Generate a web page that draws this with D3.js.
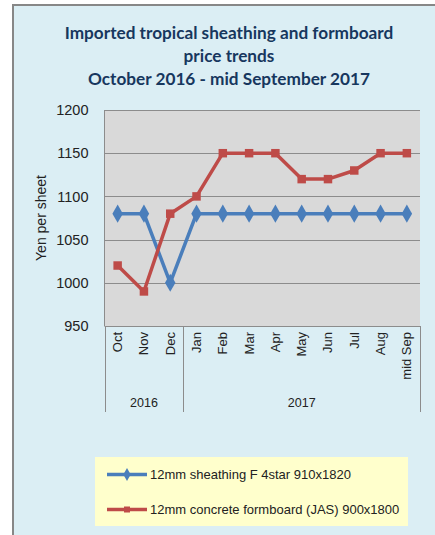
<!DOCTYPE html>
<html>
<head>
<meta charset="utf-8">
<script src="https://cdn.jsdelivr.net/npm/d3@7"></script>
<style>
  body { margin: 0; background: #fff; }
</style>
</head>
<body>
<div id="chart"></div>
<script>
var months = ["Oct", "Nov", "Dec", "Jan", "Feb", "Mar", "Apr", "May", "Jun", "Jul", "Aug", "mid Sep"];
var years = [{ label: "2016", from: 0, to: 3 }, { label: "2017", from: 3, to: 12 }];
var sheathing = [1080, 1080, 1000, 1080, 1080, 1080, 1080, 1080, 1080, 1080, 1080, 1080];
var formboard = [1020, 990, 1080, 1100, 1150, 1150, 1150, 1120, 1120, 1130, 1150, 1150];
var yTicks = [950, 1000, 1050, 1100, 1150, 1200];
var titleLines = ["Imported tropical sheathing and formboard", "price trends", "October 2016 - mid September 2017"];
var seriesNames = ["12mm sheathing F 4star 910x1820", "12mm concrete formboard (JAS) 900x1800"];

drawChart();

function drawChart() {
  var width = 435;
  var height = 535;
  var pLeft = 104.5, pRight = 420, pTop = 110, pBottom = 326;
  var font = "'Liberation Sans', Arial, sans-serif";

  var svg = d3.select("#chart").append("svg")
    .attr("width", width)
    .attr("height", height);

  // panel background + frame
  svg.append("rect")
    .attr("x", 12).attr("y", 4)
    .attr("width", width - 12).attr("height", height - 4)
    .attr("fill", "#DBEEF4");
  svg.append("path")
    .attr("d", "M13," + height + " V5 H" + width)
    .attr("fill", "none")
    .attr("stroke", "#878787")
    .attr("stroke-width", 2);

  // title
  svg.append("text")
    .attr("text-anchor", "middle")
    .attr("font-family", "Lato, 'Open Sans', sans-serif")
    .attr("font-weight", "bold")
    .attr("font-size", 17.2)
    .attr("fill", "#17375E")
    .selectAll("tspan")
    .data(titleLines)
    .enter().append("tspan")
    .attr("x", 229)
    .attr("y", function (d, i) { return 39 + i * 23; })
    .text(function (d) { return d; });

  var x = d3.scaleBand().domain(months).range([pLeft, pRight]);
  var y = d3.scaleLinear().domain([950, 1200]).range([pBottom, pTop]);

  svg.append("rect")
    .attr("x", pLeft).attr("y", pTop)
    .attr("width", pRight - pLeft).attr("height", pBottom - pTop)
    .attr("fill", "#D9D9D9");

  // gridlines
  svg.append("g")
    .selectAll("line")
    .data(yTicks)
    .enter().append("line")
    .attr("x1", pLeft).attr("x2", pRight)
    .attr("y1", function (d) { return Math.round(y(d)) + 0.5; })
    .attr("y2", function (d) { return Math.round(y(d)) + 0.5; })
    .attr("stroke", "#8C8C8C")
    .attr("stroke-width", 1);

  svg.append("line")
    .attr("x1", pLeft).attr("x2", pLeft)
    .attr("y1", pTop).attr("y2", pBottom)
    .attr("stroke", "#8C8C8C");

  // y axis labels
  var yAxis = d3.axisLeft(y).tickValues(yTicks).tickSize(0).tickPadding(16).tickFormat(d3.format("d"));
  var gy = svg.append("g")
    .attr("transform", "translate(" + pLeft + ",0)")
    .call(yAxis);
  gy.select(".domain").remove();
  gy.selectAll("text")
    .attr("font-family", font)
    .attr("font-size", 14.5)
    .attr("fill", "#222");

  svg.append("text")
    .attr("transform", "translate(46," + ((pTop + pBottom) / 2) + ") rotate(-90)")
    .attr("text-anchor", "middle")
    .attr("font-family", font)
    .attr("font-size", 14)
    .attr("fill", "#222")
    .text("Yen per sheet");

  // x axis, two levels
  var tickBottom = 412;
  var bounds = [0, 3, 12];
  svg.append("g")
    .selectAll("line")
    .data(bounds)
    .enter().append("line")
    .attr("x1", function (d) { return Math.round(pLeft + d * x.step()) + 0.5; })
    .attr("x2", function (d) { return Math.round(pLeft + d * x.step()) + 0.5; })
    .attr("y1", pBottom).attr("y2", tickBottom)
    .attr("stroke", "#8C8C8C");

  svg.append("g")
    .selectAll("text")
    .data(months)
    .enter().append("text")
    .attr("transform", function (d) {
      return "translate(" + (x(d) + x.bandwidth() / 2 + 4.5) + "," + (pBottom + 6) + ") rotate(-90)";
    })
    .attr("text-anchor", "end")
    .attr("font-family", font)
    .attr("font-size", 13)
    .attr("fill", "#222")
    .text(function (d) { return d; });

  svg.append("g")
    .selectAll("text")
    .data(years)
    .enter().append("text")
    .attr("x", function (d) { return pLeft + (d.from + d.to) / 2 * x.step(); })
    .attr("y", 407)
    .attr("text-anchor", "middle")
    .attr("font-family", font)
    .attr("font-size", 12.5)
    .attr("fill", "#222")
    .text(function (d) { return d.label; });

  // series
  var line = d3.line()
    .x(function (d, i) { return x(months[i]) + x.bandwidth() / 2; })
    .y(function (d) { return y(d); });

  var series = [
    { name: seriesNames[0], values: sheathing, color: "#4A7EBB", symbol: d3.symbolDiamond, size: 95 },
    { name: seriesNames[1], values: formboard, color: "#BE4B48", symbol: d3.symbolSquare, size: 72 }
  ];

  series.forEach(function (s) {
    svg.append("path")
      .attr("d", line(s.values))
      .attr("fill", "none")
      .attr("stroke", s.color)
      .attr("stroke-width", 3.5)
      .attr("stroke-linejoin", "round");
    svg.append("g")
      .selectAll("path")
      .data(s.values)
      .enter().append("path")
      .attr("transform", function (d, i) {
        return "translate(" + (x(months[i]) + x.bandwidth() / 2) + "," + y(d) + ")";
      })
      .attr("d", d3.symbol().type(s.symbol).size(s.size))
      .attr("fill", s.color);
  });

  // legend
  var lg = svg.append("g");
  lg.append("rect")
    .attr("x", 95).attr("y", 457)
    .attr("width", 313).attr("height", 69)
    .attr("fill", "#FFFFCC");

  series.forEach(function (s, i) {
    var ly = 474.5 + i * 35;
    lg.append("line")
      .attr("x1", 107).attr("x2", 147)
      .attr("y1", ly).attr("y2", ly)
      .attr("stroke", s.color)
      .attr("stroke-width", 3.5);
    lg.append("path")
      .attr("transform", "translate(127," + ly + ")")
      .attr("d", d3.symbol().type(s.symbol).size(s.size * 0.5))
      .attr("fill", s.color);
    lg.append("text")
      .attr("x", 150).attr("y", ly + 4.5)
      .attr("font-family", font)
      .attr("font-size", 13)
      .attr("fill", "#222")
      .text(s.name);
  });
}
</script>
</body>
</html>
